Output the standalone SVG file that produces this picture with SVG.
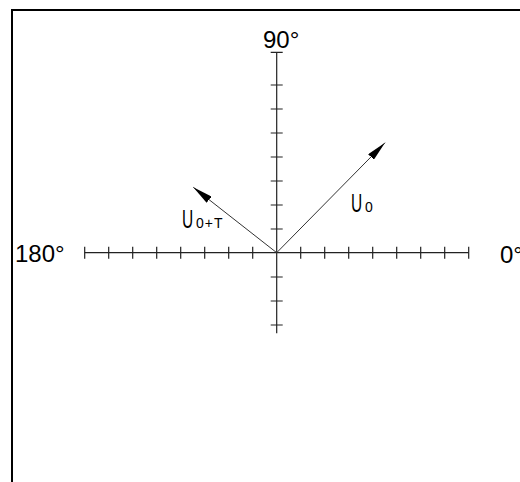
<svg xmlns="http://www.w3.org/2000/svg" width="520" height="482" viewBox="0 0 520 482">
<style>
.frame{fill:none;stroke:#000;stroke-width:2}
.axis{stroke:#222;stroke-width:1.2;fill:none}
.vec{stroke:#333;stroke-width:1;fill:none}
.lbl{font-family:"Liberation Sans",Arial,sans-serif;font-size:24px;fill:#000}
.u{font-family:"Liberation Sans",Arial,sans-serif;font-size:25px;fill:#000}
.sub{font-family:"Liberation Sans",Arial,sans-serif;font-size:14px;fill:#000}
</style>
<defs>
<marker id="ah" viewBox="0 0 20 8" refX="20" refY="4" markerWidth="20" markerHeight="8" markerUnits="userSpaceOnUse" orient="auto">
<path d="M0,0 L20,4 L0,8 Z" fill="#000"/>
</marker>
</defs>
<rect class="frame" x="12" y="10" width="520" height="480"/>
<g id="axes">
<path class="axis" d="M84.7,252.7 H468.7 M276.7,52.3 V333.3"/>
<path class="axis" d="M84.7,246.7 v12 M108.7,246.7 v12 M132.7,246.7 v12 M156.7,246.7 v12 M180.7,246.7 v12 M204.7,246.7 v12 M228.7,246.7 v12 M252.7,246.7 v12 M300.7,246.7 v12 M324.7,246.7 v12 M348.7,246.7 v12 M372.7,246.7 v12 M396.7,246.7 v12 M420.7,246.7 v12 M444.7,246.7 v12 M468.7,246.7 v12"/>
<path class="axis" d="M270.7,52.3 h12 M270.7,85 h12 M270.7,109 h12 M270.7,133 h12 M270.7,157 h12 M270.7,181 h12 M270.7,205 h12 M270.7,229 h12 M270.7,277 h12 M270.7,301 h12 M270.7,325 h12"/>
</g>
<g id="labels">
<text class="lbl" x="263" y="48">90°</text>
<text class="lbl" x="15" y="262">180°</text>
<text class="lbl" x="500" y="263">0°</text>
</g>
<g id="connectors">
<line class="vec" x1="276.7" y1="252.7" x2="385" y2="142.7" marker-end="url(#ah)"/>
<line class="vec" x1="276.7" y1="252.7" x2="193.3" y2="187.3" marker-end="url(#ah)"/>
</g>
<g id="U0">
<text class="u" transform="translate(351,211.5) scale(0.62,1)">U</text>
<text class="sub" x="365" y="211.5">0</text>
</g>
<g id="U0T">
<text class="u" transform="translate(182,228) scale(0.62,1)">U</text>
<text class="sub" x="196" y="228" letter-spacing="1">0+T</text>
</g>
</svg>
